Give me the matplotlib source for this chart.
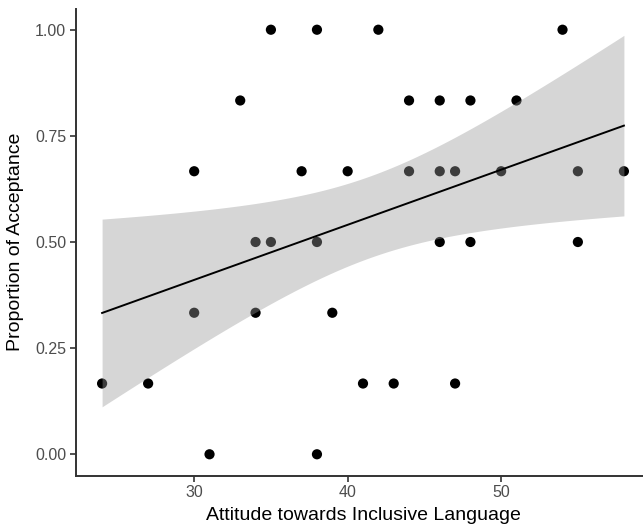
import numpy as np
import matplotlib
matplotlib.use("Agg")
import matplotlib.pyplot as plt

# data
x_vals = [35, 38, 42, 54,
          33, 44, 46, 48, 51,
          30, 37, 40, 44, 46, 47, 50, 55, 58,
          34, 35, 38, 46, 48, 55,
          30, 34, 39,
          24, 27, 41, 43, 47,
          31, 38]
y_vals = [1.0] * 4 + [5 / 6] * 5 + [2 / 3] * 9 + [0.5] * 6 + [1 / 3] * 3 + [1 / 6] * 5 + [0.0] * 2
x_ticks = [30, 40, 50]
y_ticks = [0.0, 0.25, 0.5, 0.75, 1.0]
y_tick_labels = ["0.00", "0.25", "0.50", "0.75", "1.00"]
x_label = "Attitude towards Inclusive Language"
y_label = "Proportion of Acceptance"

x = np.array(x_vals, dtype=float)
y = np.array(y_vals, dtype=float)
n = len(x)

# linear fit with 95% confidence band (as geom_smooth(method="lm"))
b1, b0 = np.polyfit(x, y, 1)
resid = y - (b0 + b1 * x)
s = np.sqrt(np.sum(resid ** 2) / (n - 2))
try:
    from scipy.stats import t as tdist
    tq = tdist.ppf(0.975, n - 2)
except Exception:
    tq = 2.0369
xs = np.linspace(x.min(), x.max(), 200)
ys = b0 + b1 * xs
se = s * np.sqrt(1 / n + (xs - x.mean()) ** 2 / np.sum((x - x.mean()) ** 2))

plt.rcParams['font.family'] = ['Liberation Sans', 'DejaVu Sans']

fig = plt.figure(figsize=(6.43, 5.28), dpi=100)
ax = fig.add_axes([76 / 643, 1 - 475.5 / 528, (650 - 76) / 643, (475.5 - 8.5) / 528])

ax.scatter(x, y, s=54, color='black', edgecolors='none', zorder=2)
ax.fill_between(xs, ys - tq * se, ys + tq * se, color='#999999', alpha=0.4,
                linewidth=0, zorder=3)
ax.plot(xs, ys, color='black', linewidth=1.4, zorder=4)

xr = x.max() - x.min()
ax.set_xlim(x.min() - 0.05 * xr, x.max() + 0.05 * xr)
ax.set_ylim(-0.05, 1.05)
ax.set_xticks(x_ticks)
ax.set_yticks(y_ticks)
ax.set_yticklabels(y_tick_labels)

for side in ['top', 'right']:
    ax.spines[side].set_visible(False)
for side in ['left', 'bottom']:
    ax.spines[side].set_color('#333333')
    ax.spines[side].set_linewidth(1.4)
ax.tick_params(axis='both', colors='#333333', width=1.2, length=4,
               labelsize=11.5, labelcolor='#4D4D4D', pad=3)

ax.set_xlabel(x_label, fontsize=14, color='black', labelpad=5)
ax.set_ylabel(y_label, fontsize=14, color='black', labelpad=8)

fig.savefig("out.png", dpi=100)
